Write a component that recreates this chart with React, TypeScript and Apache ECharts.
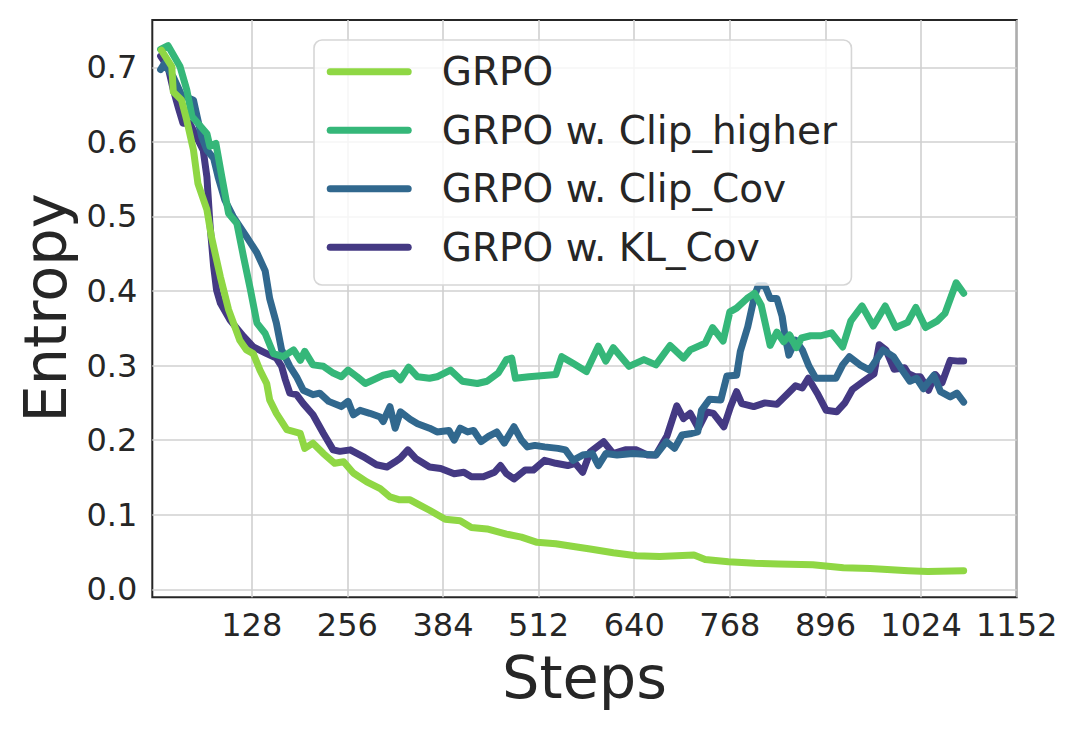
import React, { useEffect, useRef } from "react";
import * as echarts from "echarts";

const FONT = "DejaVu Sans";

const seriesNames = ["GRPO", "GRPO w. Clip_higher", "GRPO w. Clip_Cov", "GRPO w. KL_Cov"];
const seriesColors = ["#8fd744", "#35b779", "#31688e", "#443983"];

const xTickValues = [128, 256, 384, 512, 640, 768, 896, 1024, 1152];
const yTickValues = [0, 0.1, 0.2, 0.3, 0.4, 0.5, 0.6, 0.7];

const grpoSteps = [7, 21, 23, 34, 41, 50, 56, 68, 74, 86, 97, 112, 121, 130, 139, 148, 152, 161, 175, 193, 199, 210, 224, 239, 251, 264, 282, 300, 313, 326, 340, 353, 366, 387, 407, 422, 443, 469, 489, 510, 535, 561, 581, 612, 643, 674, 720, 735, 766, 802, 833, 879, 920, 956, 1007, 1033, 1081];
const grpoValues = [0.723, 0.701, 0.667, 0.656, 0.629, 0.589, 0.544, 0.509, 0.473, 0.419, 0.375, 0.334, 0.321, 0.316, 0.294, 0.276, 0.254, 0.236, 0.214, 0.209, 0.189, 0.196, 0.182, 0.169, 0.171, 0.156, 0.144, 0.135, 0.124, 0.12, 0.12, 0.113, 0.106, 0.094, 0.092, 0.083, 0.081, 0.074, 0.07, 0.063, 0.061, 0.057, 0.054, 0.049, 0.045, 0.044, 0.046, 0.04, 0.037, 0.035, 0.034, 0.033, 0.029, 0.028, 0.025, 0.024, 0.025];

const clipHigherSteps = [6, 16, 32, 41, 48, 56, 68, 72, 80, 88, 97, 108, 117, 126, 135, 146, 157, 170, 184, 193, 199, 210, 224, 237, 248, 257, 269, 280, 291, 304, 318, 327, 338, 350, 366, 376, 394, 410, 430, 443, 458, 469, 476, 481, 499, 535, 543, 558, 576, 592, 602, 612, 633, 653, 669, 688, 706, 715, 735, 745, 759, 768, 777, 791, 801, 810, 822, 831, 840, 848, 857, 864, 876, 890, 904, 919, 930, 945, 960, 976, 990, 1006, 1017, 1030, 1046, 1056, 1071, 1081];
const clipHigherValues = [0.724, 0.729, 0.701, 0.67, 0.634, 0.625, 0.611, 0.594, 0.598, 0.553, 0.504, 0.491, 0.446, 0.403, 0.357, 0.343, 0.316, 0.312, 0.321, 0.307, 0.319, 0.301, 0.299, 0.29, 0.285, 0.294, 0.285, 0.276, 0.281, 0.287, 0.29, 0.281, 0.298, 0.285, 0.283, 0.285, 0.294, 0.279, 0.276, 0.279, 0.29, 0.308, 0.31, 0.283, 0.285, 0.288, 0.312, 0.303, 0.292, 0.326, 0.306, 0.324, 0.299, 0.308, 0.301, 0.327, 0.31, 0.321, 0.33, 0.351, 0.333, 0.372, 0.377, 0.39, 0.397, 0.381, 0.327, 0.345, 0.332, 0.341, 0.324, 0.337, 0.34, 0.34, 0.344, 0.325, 0.36, 0.38, 0.353, 0.38, 0.351, 0.358, 0.378, 0.351, 0.36, 0.37, 0.411, 0.397];

const clipCovSteps = [6, 11, 23, 34, 50, 56, 61, 68, 77, 83, 92, 103, 121, 135, 146, 152, 161, 168, 179, 188, 197, 210, 219, 231, 248, 257, 264, 273, 286, 300, 304, 313, 320, 327, 340, 350, 366, 376, 392, 399, 407, 417, 425, 435, 445, 456, 466, 479, 489, 497, 507, 520, 538, 548, 558, 571, 584, 592, 602, 617, 638, 669, 683, 694, 704, 717, 725, 730, 741, 756, 764, 777, 782, 792, 801, 806, 815, 822, 831, 838, 842, 847, 856, 865, 874, 883, 897, 910, 919, 928, 942, 955, 973, 987, 1000, 1009, 1018, 1027, 1041, 1050, 1063, 1072, 1081];
const clipCovValues = [0.697, 0.705, 0.687, 0.663, 0.656, 0.629, 0.607, 0.589, 0.578, 0.553, 0.522, 0.5, 0.473, 0.451, 0.427, 0.39, 0.357, 0.321, 0.299, 0.285, 0.267, 0.261, 0.263, 0.252, 0.245, 0.252, 0.234, 0.24, 0.236, 0.231, 0.225, 0.245, 0.216, 0.238, 0.228, 0.222, 0.216, 0.211, 0.213, 0.2, 0.216, 0.211, 0.213, 0.198, 0.205, 0.211, 0.196, 0.218, 0.2, 0.191, 0.193, 0.191, 0.189, 0.187, 0.173, 0.18, 0.182, 0.166, 0.182, 0.18, 0.182, 0.18, 0.198, 0.189, 0.207, 0.209, 0.211, 0.24, 0.255, 0.254, 0.286, 0.287, 0.319, 0.352, 0.393, 0.407, 0.407, 0.39, 0.39, 0.366, 0.339, 0.314, 0.334, 0.321, 0.299, 0.283, 0.283, 0.283, 0.301, 0.312, 0.301, 0.294, 0.321, 0.312, 0.292, 0.279, 0.283, 0.269, 0.287, 0.265, 0.258, 0.263, 0.251];

const klCovSteps = [6, 16, 23, 30, 36, 45, 56, 63, 68, 72, 77, 81, 86, 99, 117, 130, 148, 161, 168, 173, 179, 188, 197, 210, 224, 237, 246, 260, 277, 295, 309, 320, 327, 337, 348, 366, 381, 399, 412, 422, 438, 453, 461, 469, 479, 494, 505, 520, 535, 551, 561, 571, 581, 599, 612, 628, 643, 658, 669, 684, 697, 706, 715, 726, 737, 746, 760, 769, 777, 784, 800, 815, 831, 845, 856, 865, 873, 885, 897, 911, 922, 932, 947, 961, 968, 977, 988, 1002, 1007, 1016, 1023, 1034, 1043, 1052, 1063, 1074, 1081];
const klCovValues = [0.715, 0.7, 0.67, 0.645, 0.625, 0.625, 0.603, 0.589, 0.553, 0.491, 0.433, 0.401, 0.384, 0.361, 0.339, 0.325, 0.316, 0.31, 0.299, 0.281, 0.263, 0.261, 0.249, 0.234, 0.209, 0.187, 0.185, 0.187, 0.178, 0.167, 0.164, 0.171, 0.176, 0.187, 0.175, 0.164, 0.162, 0.155, 0.157, 0.151, 0.151, 0.157, 0.166, 0.155, 0.148, 0.16, 0.16, 0.173, 0.169, 0.166, 0.169, 0.157, 0.184, 0.198, 0.182, 0.187, 0.187, 0.18, 0.18, 0.206, 0.246, 0.229, 0.236, 0.216, 0.238, 0.236, 0.218, 0.245, 0.265, 0.249, 0.245, 0.25, 0.248, 0.262, 0.273, 0.27, 0.283, 0.263, 0.24, 0.238, 0.25, 0.268, 0.279, 0.289, 0.328, 0.321, 0.295, 0.297, 0.289, 0.285, 0.285, 0.267, 0.288, 0.277, 0.307, 0.306, 0.306];

const stepsList = [grpoSteps, clipHigherSteps, clipCovSteps, klCovSteps];
const valuesList = [grpoValues, clipHigherValues, clipCovValues, klCovValues];

function zip(xs: number[], ys: number[]) {
  return xs.map((x, i) => [x, ys[i]]);
}

export default function App() {
  const ref = useRef<HTMLDivElement>(null);
  useEffect(() => {
    const chart = echarts.init(ref.current!, null, { renderer: "svg" });
    const gridColor = "#d0d0d0";
    const textColor = "#262626";
    const option: any = {
      animation: false,
      backgroundColor: "#ffffff",
      grid: {
        left: 152.3,
        right: 63.3,
        top: 20,
        bottom: 131.7,
        show: true,
        borderColor: "#262626",
        borderWidth: 2,
        backgroundColor: "transparent",
        z: 0,
      },
      xAxis: {
        type: "value",
        min: -5.1,
        max: 1152,
        axisLine: { show: false },
        axisTick: { show: false, customValues: xTickValues },
        axisLabel: {
          customValues: xTickValues,
          margin: 12,
          fontFamily: FONT,
          fontSize: 32,
          color: textColor,
          formatter: (v: number) => String(v),
        },
        splitLine: { show: true, lineStyle: { color: gridColor, width: 1.6 } },
      },
      yAxis: {
        type: "value",
        min: -0.0107,
        max: 0.7634,
        axisLine: { show: false },
        axisTick: { show: false, customValues: yTickValues },
        axisLabel: {
          customValues: yTickValues,
          margin: 15,
          fontFamily: FONT,
          fontSize: 32,
          color: textColor,
          padding: [9, 0, 0, 0],
          formatter: (v: number) => v.toFixed(1),
        },
        splitLine: { show: true, lineStyle: { color: gridColor, width: 1.6 } },
      },
      legend: {
        orient: "vertical",
        left: 314,
        top: 40,
        data: seriesNames,
        icon: "path://M3.5,0H81.5A3.5,3.5,0,0,1,81.5,7H3.5A3.5,3.5,0,0,1,3.5,0Z",
        itemWidth: 85,
        itemHeight: 7,
        itemGap: 19.5,
        padding: [12.2, 14.5, 18.3, 12.7],
        backgroundColor: "rgba(255,255,255,0.8)",
        borderColor: "#d6d6d6",
        borderWidth: 1.6,
        borderRadius: 8,
        textStyle: {
          fontFamily: FONT,
          fontSize: 39,
          lineHeight: 39,
          color: textColor,
          padding: [0, 0, 0, 25],
        },
        z: 10,
      },
      graphic: [
        {
          type: "text",
          x: 584.5,
          y: 677,
          style: {
            text: "Steps",
            fontFamily: FONT,
            fontSize: 59,
            fill: textColor,
            align: "center",
            verticalAlign: "middle",
          },
        },
        {
          type: "text",
          x: 45,
          y: 308,
          rotation: Math.PI / 2,
          style: {
            text: "Entropy",
            fontFamily: FONT,
            fontSize: 59,
            fill: textColor,
            align: "center",
            verticalAlign: "middle",
          },
        },
      ],
      series: seriesNames.map((name, i) => ({
        name,
        type: "line",
        data: zip(stepsList[i], valuesList[i]),
        showSymbol: false,
        symbol: "none",
        z: 5 - i,
        color: seriesColors[i],
        itemStyle: { color: seriesColors[i] },
        lineStyle: { color: seriesColors[i], width: 7, cap: "round", join: "round" },
      })),
    };
    chart.setOption(option);
    return () => chart.dispose();
  }, []);
  return (
    <div
      ref={ref}
      style={{ position: "fixed", left: 0, top: 0, width: 1080, height: 729 }}
    />
  );
}
